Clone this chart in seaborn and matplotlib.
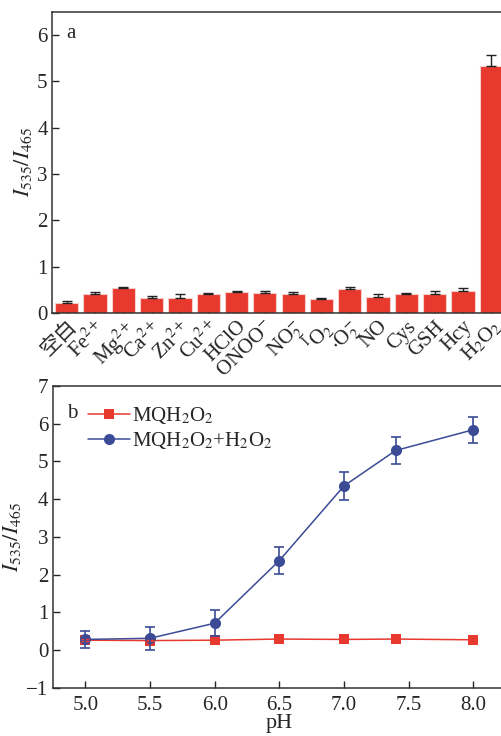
import numpy as np
import pandas as pd
import matplotlib
matplotlib.use("Agg")
import matplotlib.pyplot as plt
import seaborn as sns

# panel a data
species = ["空白", "Fe$^{2+}$", "Mg$^{2+}$", "Ca$^{2+}$", "Zn$^{2+}$", "Cu$^{2+}$", "HClO",
           "ONOO$^{-}$", "NO$_2^{-}$", "$^{1}$O$_2$", "$\\cdot$O$_2^{-}$", "NO", "Cys",
           "GSH", "Hcy", "H$_2$O$_2$"]
ratio_a = [0.22, 0.42, 0.53, 0.33, 0.33, 0.40, 0.45, 0.43, 0.42, 0.30, 0.51, 0.35,
           0.40, 0.42, 0.48, 5.33]
err_a = [0.03, 0.035, 0.04, 0.03, 0.07, 0.035, 0.035, 0.035, 0.035, 0.02, 0.045, 0.07,
         0.035, 0.06, 0.065, 0.24]

# panel b data
ph = [5.0, 5.5, 6.0, 6.5, 7.0, 7.4, 8.0]
probe = [0.26, 0.25, 0.26, 0.29, 0.28, 0.29, 0.27]
probe_err = [0.02, 0.02, 0.02, 0.02, 0.02, 0.02, 0.02]
probe_h2o2 = [0.28, 0.31, 0.71, 2.37, 4.35, 5.29, 5.84]
probe_h2o2_err = [0.23, 0.31, 0.34, 0.35, 0.37, 0.37, 0.35]

sns.set_style("ticks")
plt.rcParams['font.family'] = ['Liberation Serif', 'Noto Sans CJK SC']
plt.rcParams['mathtext.fontset'] = 'stix'
plt.rcParams['font.size'] = 15

RED = "#e8392f"
BLUE = "#3b4b96"

fig = plt.figure(figsize=(5.02, 7.36), dpi=100)
W, H = 502.0, 736.0
ax1 = fig.add_axes([52.5 / W, 1 - 313 / H, 453 / W, 301 / H])
ax2 = fig.add_axes([53 / W, 1 - 687.7 / H, 452.6 / W, 301.7 / H])

# ---- panel a ----
df_a = pd.DataFrame({"species": species, "ratio": ratio_a, "err": err_a})
sns.barplot(data=df_a, x="species", y="ratio", color=RED, saturation=1,
            width=0.82, edgecolor="#f6cdc9", linewidth=0.8, errorbar=None, ax=ax1)
xs = np.arange(len(species))
ax1.errorbar(xs, ratio_a, yerr=[np.zeros(len(err_a)), err_a], fmt="none",
             ecolor="#222222", elinewidth=1, capsize=3.5, capthick=1)
ax1.set_xlim(-0.5, 15.5)
ax1.set_ylim(0, 6.5)
ax1.set_yticks([0, 1, 2, 3, 4, 5, 6])
ax1.set_xlabel("")
ax1.set_ylabel("$I_{535}/I_{465}$", fontsize=16, labelpad=2)
ax1.set_xticks(xs)
ax1.set_xticklabels(species, rotation=45, ha="right", rotation_mode="anchor", fontsize=15)
ax1.tick_params(axis="both", direction="in", length=5, width=1, labelsize=15)
ax1.tick_params(axis="x", pad=3)
ax1.text(0.03, 0.96, "a", transform=ax1.transAxes, fontsize=15, va="top")

# ---- panel b ----
df_b = pd.DataFrame({
    "pH": ph * 2,
    "ratio": probe + probe_h2o2,
    "group": ["MQH$_2$O$_2$"] * len(ph) + ["MQH$_2$O$_2$+H$_2$O$_2$"] * len(ph),
})
sns.lineplot(data=df_b, x="pH", y="ratio", hue="group", style="group",
             palette=[RED, BLUE], markers=["s", "o"], dashes=False,
             markersize=8, markeredgewidth=0, linewidth=1.1, ax=ax2)
ax2.lines[0].set_markersize(6.5)
ax2.errorbar(ph, probe, yerr=probe_err, fmt="none", ecolor=RED, elinewidth=1,
             capsize=3, capthick=1)
ax2.errorbar(ph, probe_h2o2, yerr=probe_h2o2_err, fmt="none", ecolor=BLUE,
             elinewidth=1.2, capsize=3.5, capthick=1.2)
ax2.set_xlim(4.75, 8.25)
ax2.set_ylim(-1, 7)
ax2.set_xticks([5.0, 5.5, 6.0, 6.5, 7.0, 7.5, 8.0])
ax2.set_xticklabels(["5.0", "5.5", "6.0", "6.5", "7.0", "7.5", "8.0"])
ax2.set_yticks(range(-1, 8))
ax2.set_yticklabels(["\u22121"] + [str(v) for v in range(0, 8)])
ax2.set_xlabel("pH", fontsize=16, labelpad=-1)
ax2.set_ylabel("$I_{535}/I_{465}$", fontsize=16, labelpad=2)
ax2.tick_params(axis="both", direction="in", length=5, width=1, labelsize=15)
ax2.tick_params(axis="x", pad=6)
ax2.text(0.03, 0.94, "b", transform=ax2.transAxes, fontsize=15, va="top")
leg = ax2.legend(loc="upper left", bbox_to_anchor=(0.06, 0.965), frameon=False,
                 fontsize=15, handlelength=2.0, handletextpad=0.1, labelspacing=0.2,
                 borderaxespad=0)
leg.legend_handles[0].set_markersize(6.5)

for ax in (ax1, ax2):
    for s in ax.spines.values():
        s.set_linewidth(1.1)
        s.set_color("#333333")

fig.savefig("out.png", dpi=100)
